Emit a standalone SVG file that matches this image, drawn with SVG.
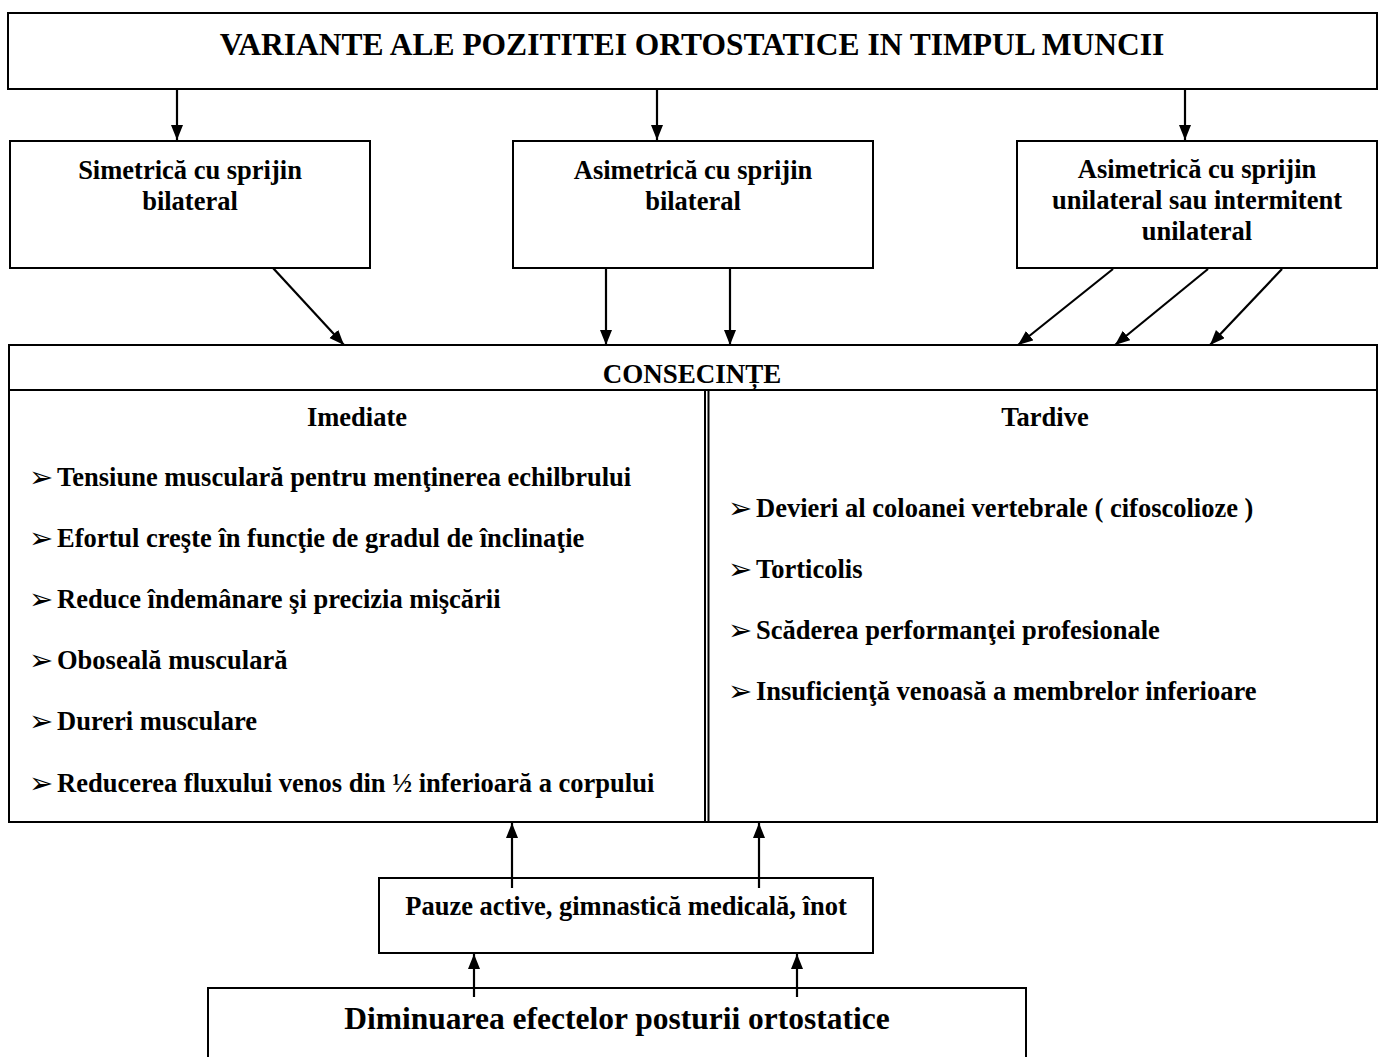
<svg xmlns="http://www.w3.org/2000/svg" width="1384" height="1057" viewBox="0 0 1384 1057">
<style>
.box{fill:#fff;stroke:#000;stroke-width:2}
.t{font-family:"Liberation Serif","Times New Roman",serif;font-weight:bold;fill:#000}
.c{text-anchor:middle}
.m{font-size:26.5px}
.b{font-family:"DejaVu Sans",sans-serif;font-size:29px;fill:#000}
.con{stroke:#000;stroke-width:2.2;fill:none;marker-end:url(#ah)}
</style>
<defs>
<marker id="ah" markerWidth="16" markerHeight="14" refX="15" refY="6" orient="auto" markerUnits="userSpaceOnUse">
<path d="M0,0 L15,6 L0,12 Z" fill="#000"/>
</marker>
</defs>
<rect width="1384" height="1057" fill="#fff"/>
<g id="title">
<rect class="box" x="8" y="13" width="1369" height="76"/>
<text class="t c" x="692" y="55" font-size="31.5">VARIANTE ALE POZITITEI ORTOSTATICE IN TIMPUL MUNCII</text>
</g>
<g id="simetrica">
<rect class="box" x="10" y="141" width="360" height="127"/>
<text class="t c m" x="190" y="179">Simetrică cu sprijin</text>
<text class="t c m" x="190" y="210">bilateral</text>
</g>
<g id="asimetrica-bilateral">
<rect class="box" x="513" y="141" width="360" height="127"/>
<text class="t c m" x="693" y="179">Asimetrică cu sprijin</text>
<text class="t c m" x="693" y="210">bilateral</text>
</g>
<g id="asimetrica-unilateral">
<rect class="box" x="1017" y="141" width="360" height="127"/>
<text class="t c m" x="1197" y="178">Asimetrică cu sprijin</text>
<text class="t c m" x="1197" y="209">unilateral sau intermitent</text>
<text class="t c m" x="1197" y="240">unilateral</text>
</g>
<g id="consecinte">
<rect class="box" x="9" y="345" width="1368" height="477"/>
<line x1="9" y1="390" x2="1377" y2="390" stroke="#000" stroke-width="2"/>
<line x1="705" y1="390" x2="705" y2="822" stroke="#000" stroke-width="2"/>
<line x1="708.5" y1="390" x2="708.5" y2="822" stroke="#000" stroke-width="2"/>
<text class="t c" x="692" y="383" font-size="27">CONSECINȚE</text>
<text class="t c m" x="357" y="426">Imediate</text>
<text class="t c m" x="1045" y="426">Tardive</text>
<g class="b">
<text x="29" y="487">➢</text>
<text x="29" y="548">➢</text>
<text x="29" y="609">➢</text>
<text x="29" y="670">➢</text>
<text x="29" y="731">➢</text>
<text x="29" y="793">➢</text>
<text x="728" y="518">➢</text>
<text x="728" y="579">➢</text>
<text x="728" y="640">➢</text>
<text x="728" y="701">➢</text>
</g>
<g class="t m">
<text x="57" y="486">Tensiune musculară pentru menţinerea echilbrului</text>
<text x="57" y="547">Efortul creşte în funcţie de gradul de înclinaţie</text>
<text x="57" y="608">Reduce îndemânare şi precizia mişcării</text>
<text x="57" y="669">Oboseală musculară</text>
<text x="57" y="730">Dureri musculare</text>
<text x="57" y="792">Reducerea fluxului venos din ½ inferioară a corpului</text>
<text x="756" y="517">Devieri al coloanei vertebrale ( cifoscolioze )</text>
<text x="756" y="578">Torticolis</text>
<text x="756" y="639">Scăderea performanţei profesionale</text>
<text x="756" y="700">Insuficienţă venoasă a membrelor inferioare</text>
</g>
</g>
<g id="pauze">
<rect class="box" x="379" y="878" width="494" height="75"/>
<text class="t c m" x="626" y="915">Pauze active, gimnastică medicală, înot</text>
</g>
<g id="diminuarea">
<rect class="box" x="208" y="988" width="818" height="90"/>
<text class="t c" x="617" y="1029" font-size="31.5">Diminuarea efectelor posturii ortostatice</text>
</g>
<g id="connectors">
<line class="con" x1="177" y1="89" x2="177" y2="140"/>
<line class="con" x1="657" y1="89" x2="657" y2="140"/>
<line class="con" x1="1185" y1="89" x2="1185" y2="140"/>
<line class="con" x1="273" y1="268" x2="344" y2="345"/>
<line class="con" x1="606" y1="268" x2="606" y2="345"/>
<line class="con" x1="730" y1="268" x2="730" y2="345"/>
<line class="con" x1="1113" y1="269" x2="1018" y2="345"/>
<line class="con" x1="1208" y1="269" x2="1115" y2="345"/>
<line class="con" x1="1282" y1="269" x2="1210" y2="345"/>
<line class="con" x1="512" y1="888" x2="512" y2="823"/>
<line class="con" x1="759" y1="888" x2="759" y2="823"/>
<line class="con" x1="474" y1="997" x2="474" y2="954"/>
<line class="con" x1="797" y1="997" x2="797" y2="954"/>
</g>
</svg>
